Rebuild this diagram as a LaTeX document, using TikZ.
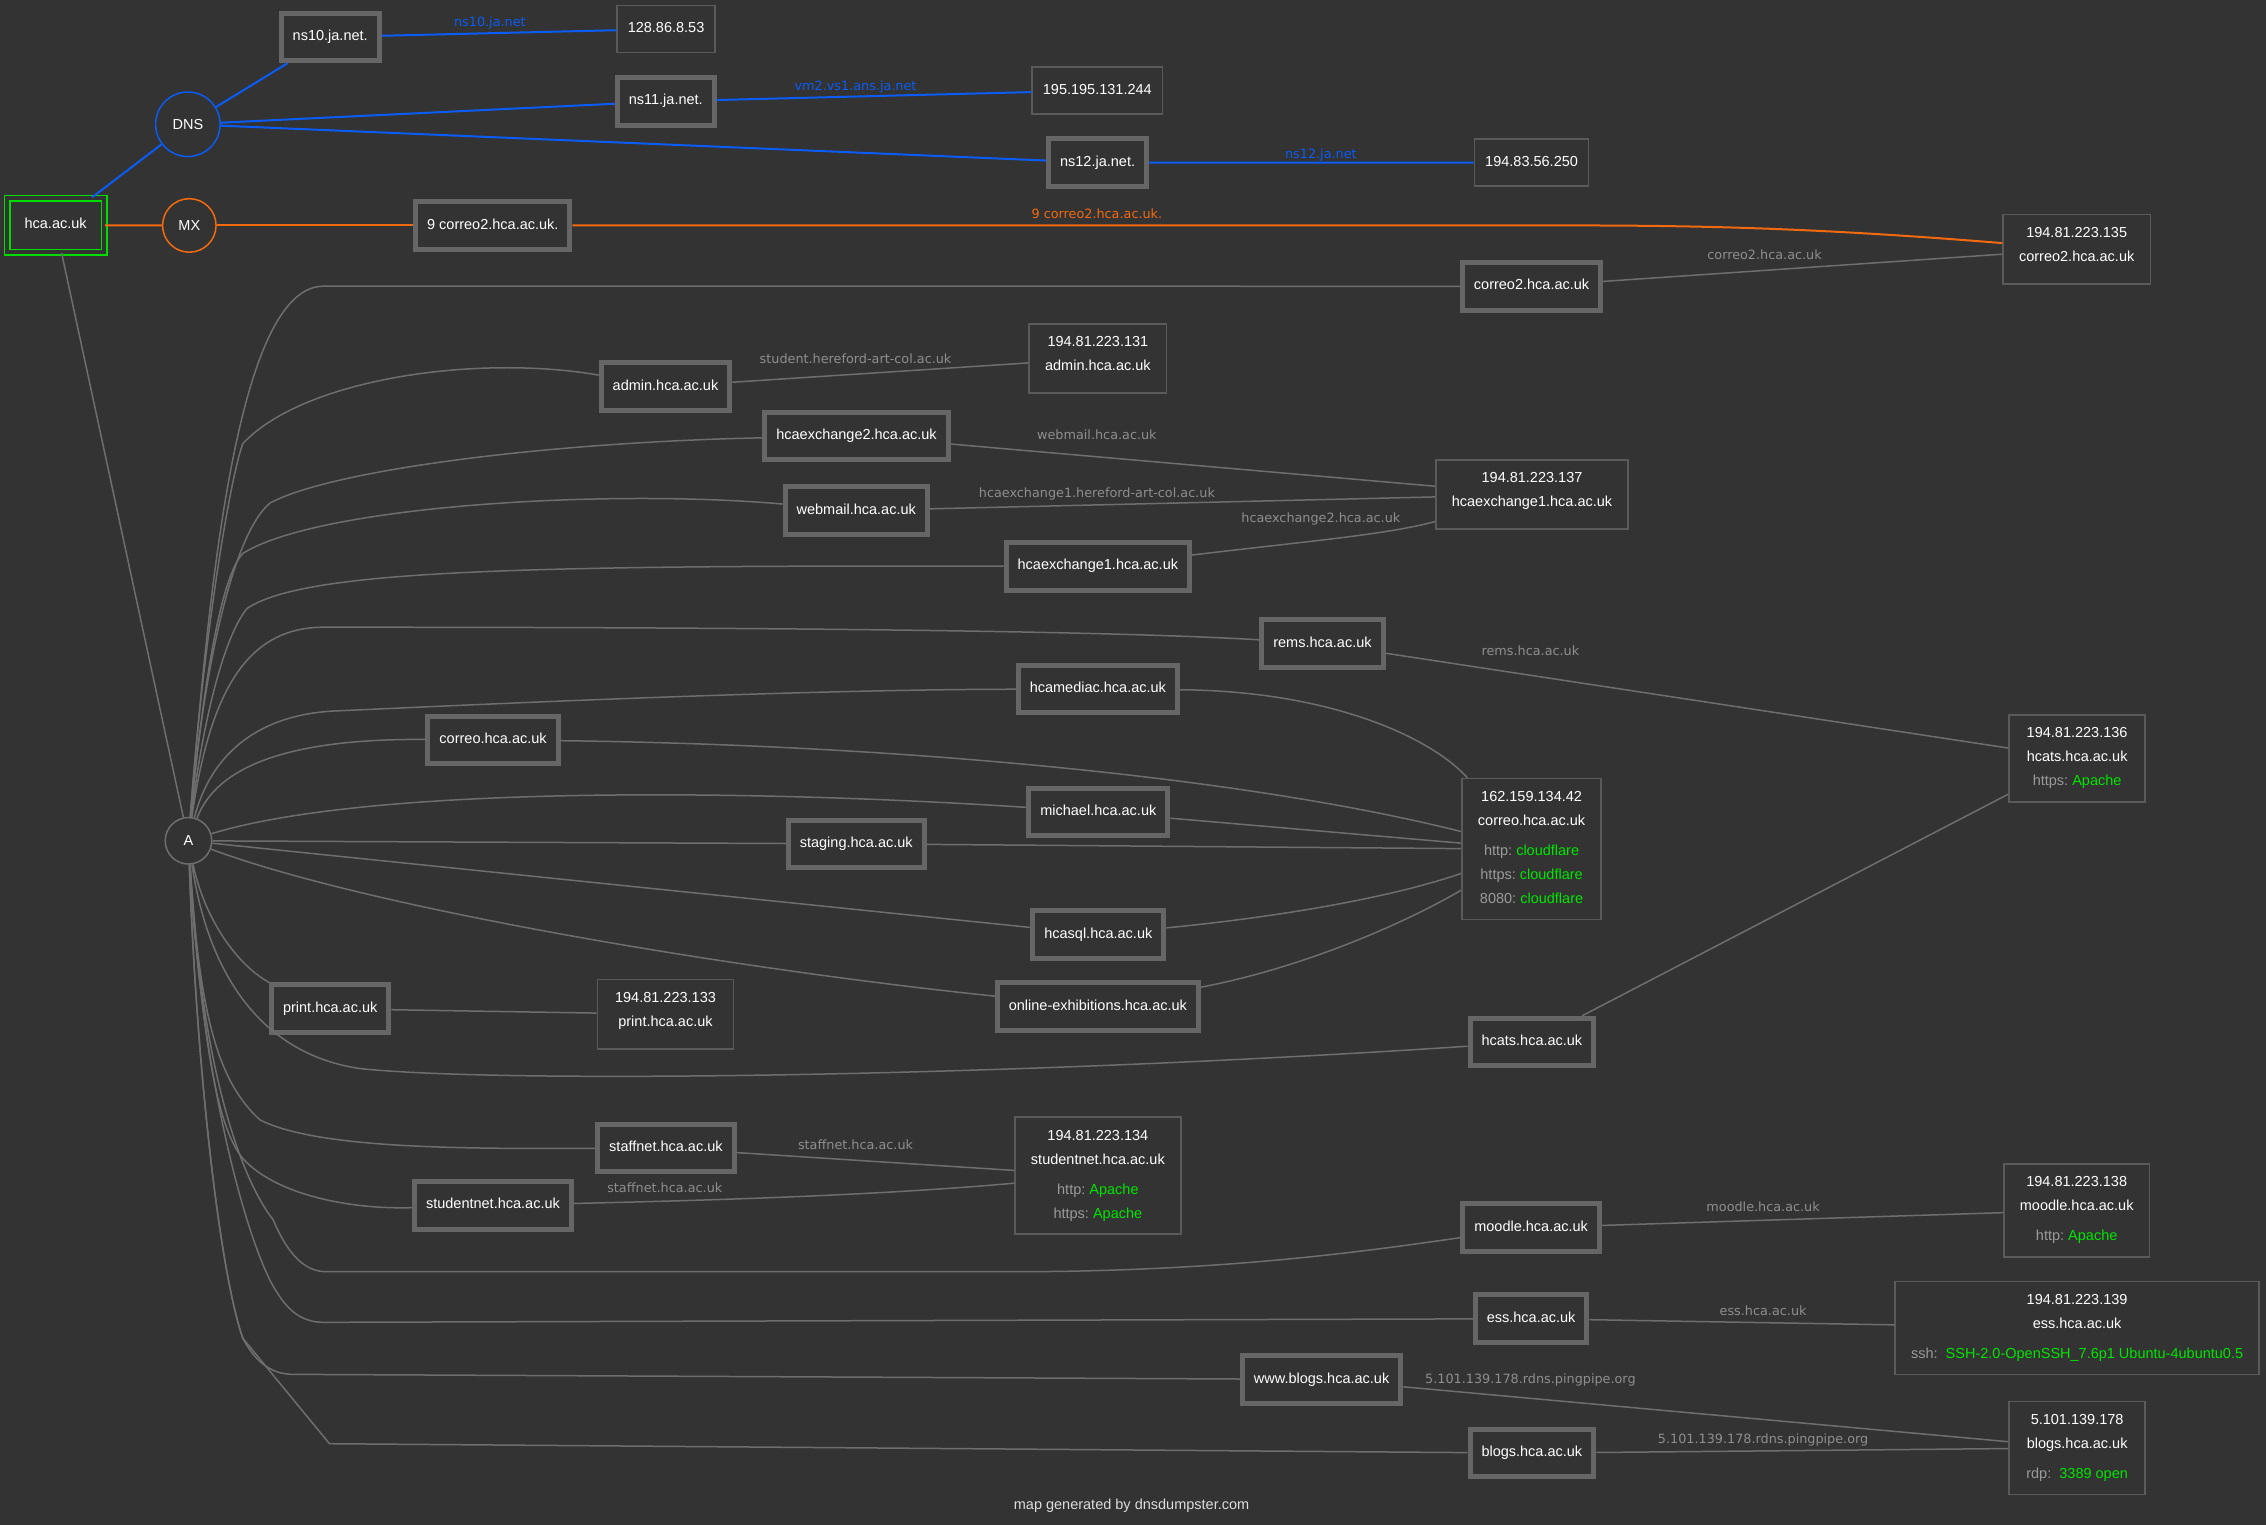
\documentclass[tikz,border=0pt]{standalone}
\usepackage{fontspec}
\setmainfont{Liberation Sans}
\newfontfamily\labelfont{DejaVu Sans}
\usepackage{tikz}
\definecolor{bg}{HTML}{333333}
\definecolor{hostline}{HTML}{666666}
\definecolor{boxline}{HTML}{5A5A5A}
\definecolor{edge}{HTML}{6E6E6E}
\definecolor{edgetext}{HTML}{8E8E8E}
\definecolor{svc}{HTML}{9A9A9A}
\definecolor{ok}{HTML}{00E600}
\definecolor{dnsblue}{HTML}{0A5CF5}
\definecolor{mxorange}{HTML}{F26A10}
\definecolor{rootgreen}{HTML}{00DD00}
\definecolor{credit}{HTML}{DCDCDC}
\newcommand{\port}[2]{{\color{svc}#1}~{\color{ok}#2}}
\newcommand{\lastdp}[1]{\rule[-#1]{0pt}{#1}}

\begin{document}
\begin{tikzpicture}[x=1.4452pt,y=-1.4452pt,
    every node/.style={font=\fontsize{14.5}{24}\selectfont,text=white},
    host/.style={rectangle,draw=hostline,line width=5pt,minimum height=47.5pt,inner xsep=11.5pt,text height=10.5pt,text depth=3.3pt},
    ipbox/.style={rectangle,draw=boxline,line width=1.6pt,minimum height=47pt,inner xsep=10.7pt,text height=10.5pt,text depth=3.3pt},
    infobox/.style={rectangle,draw=boxline,line width=1.6pt,align=center,inner xsep=16pt,inner ysep=12.8pt,minimum width=136pt},
    rootbox/.style={rectangle,draw=rootgreen,line width=1.5pt,double=bg,double distance=4pt,minimum width=97pt,minimum height=54pt,text height=10.5pt,text depth=3.3pt},
    ring/.style={circle,draw,line width=1.5pt,inner sep=0pt},
    link/.style={draw=edge,line width=1.5pt},
    dnslink/.style={draw=dnsblue,line width=2pt},
    mxlink/.style={draw=mxorange,line width=2pt},
    elabel/.style={font=\labelfont\fontsize{12.8}{15}\selectfont,text=edgetext,inner sep=0pt,text height=9.5pt,text depth=2.5pt}]
    \fill[bg] (0,0) rectangle (1568,1055.2);
    \useasboundingbox (0,0) rectangle (1568,1055.2);

    \node[rootbox] (root) at (38.5,155.8) {hca.ac.uk};
    \node[ring,draw=dnsblue,minimum size=64.5pt] (dns) at (130,86) {DNS};
    \node[ring,draw=mxorange,minimum size=53.5pt] (mx) at (131,156) {MX};
    \node[ring,draw=edge,minimum size=46.5pt] (arec) at (130.4,581.8) {A};

    \node[host] (ns10) at (228.5,25.6) {ns10.ja.net.};
    \node[ipbox] (ip10) at (460.9,20.1) {128.86.8.53};
    \node[host] (ns11) at (460.7,70.1) {ns11.ja.net.};
    \node[ipbox] (ip11) at (759.3,62.6) {195.195.131.244};
    \node[host] (ns12) at (759.5,112.6) {ns12.ja.net.};
    \node[ipbox] (ip12) at (1059.8,112.5) {194.83.56.250};
    \node[host] (mx9) at (341,156) {9 correo2.hca.ac.uk.};
    \node[infobox] (c2i) at (1437,172.4) {194.81.223.135\\correo2.hca.ac.uk\lastdp{9.5pt}};

    \node[host] (c2h) at (1059.8,198.1) {correo2.hca.ac.uk};
    \node[host] (admh) at (460.5,267.5) {admin.hca.ac.uk};
    \node[infobox] (admi) at (759.7,248) {194.81.223.131\\admin.hca.ac.uk\lastdp{9.5pt}};
    \node[host] (hx2) at (592.7,301.6) {hcaexchange2.hca.ac.uk};
    \node[host] (wbm) at (592.5,353.3) {webmail.hca.ac.uk};
    \node[host] (hx1) at (759.7,391.9) {hcaexchange1.hca.ac.uk};
    \node[infobox] (hxi) at (1060.1,342.3) {194.81.223.137\\hcaexchange1.hca.ac.uk\lastdp{9.5pt}};
    \node[host] (rems) at (915.1,445.4) {rems.hca.ac.uk};
    \node[host] (hmd) at (759.7,476.9) {hcamediac.hca.ac.uk};
    \node[host] (corh) at (341.2,512) {correo.hca.ac.uk};
    \node[host] (mich) at (760,561.9) {michael.hca.ac.uk};
    \node[host] (stg) at (592.5,583.9) {staging.hca.ac.uk};
    \node[infobox] (cori) at (1059.8,587.6) {162.159.134.42\\correo.hca.ac.uk\\[6pt]\port{http:}{cloudflare}\\\port{https:}{cloudflare}\\\port{8080:}{cloudflare}\lastdp{3.3pt}};
    \node[infobox] (hti) at (1437.3,524.8) {194.81.223.136\\hcats.hca.ac.uk\\\port{https:}{Apache}\lastdp{3.3pt}};
    \node[host] (hsq) at (760,646.6) {hcasql.hca.ac.uk};
    \node[host] (onl) at (759.7,696.6) {online-exhibitions.hca.ac.uk};
    \node[host] (prth) at (228.5,698) {print.hca.ac.uk};
    \node[infobox] (prti) at (460.5,701.8) {194.81.223.133\\print.hca.ac.uk\lastdp{9.5pt}};
    \node[host] (hcts) at (1060,721) {hcats.hca.ac.uk};
    \node[host] (stfh) at (460.8,794.4) {staffnet.hca.ac.uk};
    \node[host] (stnh) at (341.1,834) {studentnet.hca.ac.uk};
    \node[infobox] (stni) at (759.7,813.6) {194.81.223.134\\studentnet.hca.ac.uk\\[6pt]\port{http:}{Apache}\\\port{https:}{Apache}\lastdp{3.3pt}};
    \node[host] (mdlh) at (1059.5,849.5) {moodle.hca.ac.uk};
    \node[infobox] (mdli) at (1437,837.5) {194.81.223.138\\moodle.hca.ac.uk\\[6pt]\port{http:}{Apache}\lastdp{3.3pt}};
    \node[host] (essh) at (1059.5,912.5) {ess.hca.ac.uk};
    \node[infobox] (essi) at (1437.3,918.9) {194.81.223.139\\ess.hca.ac.uk\\[6pt]{\color{svc}ssh:}\ \ {\color{ok}SSH-2.0-OpenSSH\_7.6p1 Ubuntu-4ubuntu0.5}\lastdp{3.3pt}};
    \node[host] (wblh) at (914.5,954.5) {www.blogs.hca.ac.uk};
    \node[host] (blgh) at (1060,1005.5) {blogs.hca.ac.uk};
    \node[infobox] (blgi) at (1437.3,1001.9) {5.101.139.178\\blogs.hca.ac.uk\\[6pt]{\color{svc}rdp:}\ \ {\color{ok}3389 open}\lastdp{3.3pt}};

    \node[text=credit] (credit) at (783,1042) {map generated by dnsdumpster.com};

    \draw[dnslink] (root) -- (dns);
    \draw[dnslink] (dns) -- (ns10);
    \draw[dnslink] (dns) -- (ns11);
    \draw[dnslink] (dns) -- (ns12);
    \draw[dnslink] (ns10) -- (ip10) node[elabel,text=dnsblue] at (339,16) {ns10.ja.net};
    \draw[dnslink] (ns11) -- (ip11) node[elabel,text=dnsblue] at (592,60) {vm2.vs1.ans.ja.net};
    \draw[dnslink] (ns12) -- (ip12) node[elabel,text=dnsblue] at (914,107) {ns12.ja.net};
    \draw[mxlink] (root) -- (mx);
    \draw[mxlink] (mx) -- (mx9);
    \draw[mxlink] (mx9) -- (1085,156) .. controls (1180,156) and (1260,158) .. (c2i)
        node[elabel,text=mxorange] at (759,149) {9 correo2.hca.ac.uk.};
    \draw[link] (root) -- (arec);

    \draw[link] (arec) .. controls (145,400) and (165,198) .. (224,198) -- (c2h);
    \draw[link] (arec) .. controls (140,450) and (158,335) .. (168,307) .. controls (210,262) and (330,245) .. (admh);
    \draw[link] (arec) .. controls (140,470) and (160,370) .. (187,348) .. controls (230,325) and (380,306) .. (hx2);
    \draw[link] (arec) .. controls (140,480) and (152,400) .. (168,383) .. controls (220,350) and (420,338) .. (wbm);
    \draw[link] (arec) .. controls (140,500) and (155,440) .. (171,421) .. controls (210,395) and (350,391) .. (hx1);
    \draw[link] (arec) .. controls (145,480) and (170,434) .. (224,434) .. controls (500,434) and (760,436) .. (rems);
    \draw[link] (arec) .. controls (145,525) and (175,495) .. (231,492) .. controls (320,488) and (550,477) .. (hmd);
    \draw[link] (arec) .. controls (150,530) and (200,511) .. (corh);
    \draw[link] (arec) .. controls (250,545) and (500,545) .. (mich);
    \draw[link] (arec) -- (stg);
    \draw[link] (arec) -- (hsq);
    \draw[link] (arec) .. controls (260,630) and (520,672) .. (onl);
    \draw[link] (arec) .. controls (140,630) and (160,665) .. (prth.north west);
    \draw[link] (arec) .. controls (145,680) and (185,730) .. (249,739.4) .. controls (350,750) and (700,745) .. (hcts);
    \draw[link] (arec) .. controls (138,700) and (150,748) .. (180,775) .. controls (220,795) and (320,795) .. (stfh);
    \draw[link] (arec) .. controls (140,720) and (150,780) .. (168,801.6) .. controls (190,826) and (240,837) .. (stnh);
    \draw[link] (arec) .. controls (140,750) and (170,820) .. (189,844) .. controls (200,870) and (212,880) .. (226,880) -- (700,880) .. controls (850,880) and (950,865) .. (mdlh);
    \draw[link] (arec) .. controls (140,760) and (175,870) .. (191.5,894) .. controls (200,908) and (210,915) .. (224,915) -- (essh);
    \draw[link] (arec) .. controls (136,740) and (152,880) .. (168,926) .. controls (178,945) and (190,951) .. (203,951) -- (wblh);
    \draw[link] (arec) .. controls (136,740) and (152,880) .. (168,926) -- (228,999) -- (blgh);

    \draw[link] (c2h) -- (c2i) node[elabel] at (1221,177) {correo2.hca.ac.uk};
    \draw[link] (admh) -- (admi) node[elabel] at (592,249) {student.hereford-art-col.ac.uk};
    \draw[link] (hx2) -- (hxi) node[elabel] at (759,302) {webmail.hca.ac.uk};
    \draw[link] (wbm) -- (hxi) node[elabel] at (759,342) {hcaexchange1.hereford-art-col.ac.uk};
    \draw[link] (hx1) .. controls (900,375) and (960,370) .. (hxi) node[elabel] at (914,359) {hcaexchange2.hca.ac.uk};
    \draw[link] (rems) -- (hti) node[elabel] at (1059,451) {rems.hca.ac.uk};
    \draw[link] (hcts) -- (hti);
    \draw[link] (hmd) .. controls (920,478) and (990,510) .. (cori);
    \draw[link] (corh) .. controls (600,515) and (850,535) .. (cori);
    \draw[link] (mich) -- (cori);
    \draw[link] (stg) -- (cori);
    \draw[link] (hsq) .. controls (880,635) and (960,622) .. (cori);
    \draw[link] (onl) .. controls (900,670) and (970,640) .. (cori);
    \draw[link] (prth) -- (prti);
    \draw[link] (stfh) -- (stni) node[elabel] at (592,793) {staffnet.hca.ac.uk};
    \draw[link] (stnh) .. controls (520,830) and (620,826) .. (stni) node[elabel] at (460,823) {staffnet.hca.ac.uk};
    \draw[link] (mdlh) -- (mdli) node[elabel] at (1220,836) {moodle.hca.ac.uk};
    \draw[link] (essh) -- (essi) node[elabel] at (1220,908) {ess.hca.ac.uk};
    \draw[link] (wblh) -- (blgi) node[elabel] at (1059,955) {5.101.139.178.rdns.pingpipe.org};
    \draw[link] (blgh) -- (blgi) node[elabel] at (1220,996.5) {5.101.139.178.rdns.pingpipe.org};
\end{tikzpicture}
\end{document}
